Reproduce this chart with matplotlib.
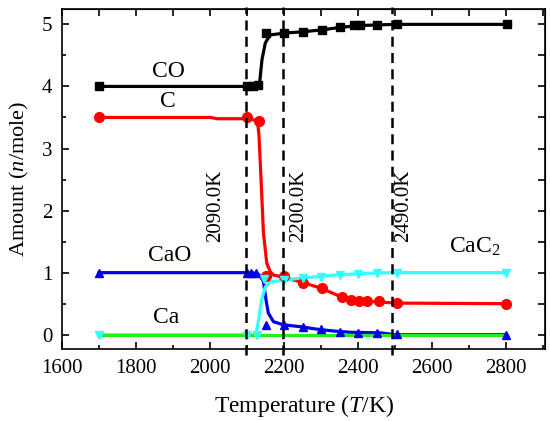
import matplotlib
matplotlib.use('Agg')
import matplotlib.pyplot as plt
from matplotlib.ticker import MultipleLocator

plt.rcParams['font.family'] = ['Liberation Serif', 'DejaVu Serif']
plt.rcParams['mathtext.fontset'] = 'custom'
plt.rcParams['mathtext.rm'] = 'Liberation Serif'
plt.rcParams['mathtext.it'] = 'Liberation Serif:italic'

# CO
co_t = [1700, 2100, 2133, 2140, 2149, 2162, 2189, 2200, 2250, 2300, 2350, 2400, 2450, 2500, 2800]
co_v = [4.0, 4.0, 4.02, 4.43, 4.7, 4.83, 4.85, 4.86, 4.88, 4.91, 4.95, 4.98, 4.99, 5.0, 5.0]
co_pt = [1700, 2100, 2115, 2130, 2152, 2200, 2252, 2302, 2351, 2390, 2405, 2450, 2505, 2802]
co_pv = [4.0, 4.0, 4.0, 4.02, 4.86, 4.86, 4.88, 4.91, 4.96, 4.99, 4.99, 4.99, 5.0, 5.0]

# C
c_t = [1700, 2000, 2020, 2100, 2128, 2132, 2138, 2144, 2153, 2162, 2171, 2198, 2250, 2300, 2350, 2400, 2450, 2500, 2800]
c_v = [3.5, 3.5, 3.48, 3.48, 3.45, 3.2, 2.44, 1.64, 1.15, 1.02, 0.96, 0.93, 0.84, 0.75, 0.62, 0.55, 0.53, 0.51, 0.5]
c_pt = [1700, 2100, 2133, 2152, 2200, 2252, 2302, 2356, 2380, 2401, 2423, 2455, 2505, 2800]
c_pv = [3.5, 3.51, 3.44, 0.95, 0.95, 0.83, 0.75, 0.61, 0.56, 0.55, 0.54, 0.54, 0.51, 0.5]

# CaO
cao_t = [1700, 2100, 2125, 2135, 2144, 2151, 2157, 2171, 2198, 2243, 2288, 2333, 2378, 2460, 2500, 2800]
cao_v = [1.0, 1.0, 0.99, 0.95, 0.86, 0.56, 0.35, 0.21, 0.16, 0.13, 0.09, 0.06, 0.04, 0.03, 0.0, 0.0]
cao_pt = [1700, 2100, 2110, 2125, 2150, 2200, 2250, 2300, 2350, 2400, 2450, 2505, 2800]
cao_pv = [1.0, 1.0, 1.0, 0.99, 0.16, 0.15, 0.13, 0.09, 0.05, 0.03, 0.03, 0.01, 0.0]

# CaC2
cac2_t = [1700, 2117, 2125, 2131, 2139, 2149, 2162, 2198, 2243, 2333, 2423, 2490, 2800]
cac2_v = [0.0, 0.0, 0.05, 0.24, 0.56, 0.77, 0.85, 0.88, 0.91, 0.96, 0.99, 1.0, 1.0]
cac2_pt = [1700, 2100, 2126, 2145, 2200, 2250, 2300, 2350, 2400, 2450, 2505, 2800]
cac2_pv = [0.0, 0.0, 0.0, 0.9, 0.88, 0.91, 0.93, 0.96, 0.98, 0.99, 1.0, 1.0]

# Ca
ca_t = [1700, 2800]
ca_v = [0.0, 0.0]

vlines_t = [2098, 2198, 2491]
vlabels = ['2090.0K', '2200.0K', '2490.0K']
vlabel_t = [2015, 2238, 2524]

fig = plt.figure(figsize=(5.5, 4.21), dpi=100)
ax = fig.add_axes([0.113, 0.171, 0.878, 0.808])

lw = 2.3
ax.plot(co_t, co_v, color='black', lw=lw, zorder=3)
ax.plot(c_t, c_v, color='#ff0000', lw=lw, zorder=3)
ax.plot(cao_t, cao_v, color='#0000ee', lw=lw, zorder=3)
ax.plot(cac2_t, cac2_v, color='#33ffff', lw=lw, zorder=3)
ax.plot(ca_t, ca_v, color='#22ee22', lw=lw, zorder=3.5)

ax.plot(co_pt, co_pv, 's', color='black', ms=6, zorder=4)
ax.plot(c_pt, c_pv, 'o', color='#ff0000', ms=7, zorder=4)
ax.plot(cao_pt, cao_pv, '^', color='#0000ee', ms=6, zorder=4)
ax.plot(cac2_pt, cac2_pv, 'v', color='#33ffff', ms=6, zorder=4)

for t in vlines_t:
    ax.plot([t, t], [-0.33, 5.28], color='black', lw=1.8, ls=(0, (4, 2.5)),
            clip_on=False, zorder=5)
for t, s in zip(vlabel_t, vlabels):
    ax.text(t, 2.08, s, rotation=90, ha='center', va='center', fontsize=15)

ax.text(1886, 4.24, 'CO', ha='center', va='center', fontsize=17)
ax.text(1886, 3.76, 'C', ha='center', va='center', fontsize=17)
ax.text(1890, 1.28, 'CaO', ha='center', va='center', fontsize=17)
ax.text(1880, 0.27, 'Ca', ha='center', va='center', fontsize=17)
ax.text(2716, 1.42, 'CaC$_2$', ha='center', va='center', fontsize=17)

ax.set_xlim(1600, 2905)
ax.set_ylim(-0.23, 5.25)
ax.set_xticks(range(1600, 2801, 200))
ax.set_yticks(range(0, 6))
ax.xaxis.set_minor_locator(MultipleLocator(100))
ax.yaxis.set_minor_locator(MultipleLocator(0.5))
ax.tick_params(which='both', direction='in', labelsize=15, width=1.2, pad=7)
ax.tick_params(which='major', length=5)
ax.tick_params(which='minor', length=3)
for sp in ax.spines.values():
    sp.set_linewidth(1.2)

# top and right: equal ticks, no labels
top = ax.secondary_xaxis('top')
top.set_xticks(range(1600, 2901, 100))
top.tick_params(direction='in', length=5, width=1.2, labeltop=False)
right = ax.secondary_yaxis('right')
right.set_yticks([i * 0.5 for i in range(0, 11)])
right.tick_params(direction='in', length=5, width=1.2, labelright=False)

ax.set_xlabel('Temperature ($T$/K)', fontsize=17, labelpad=11)
ax.set_ylabel('Amount ($n$/mole)', fontsize=16, labelpad=8)

fig.savefig('out.png', dpi=100)
